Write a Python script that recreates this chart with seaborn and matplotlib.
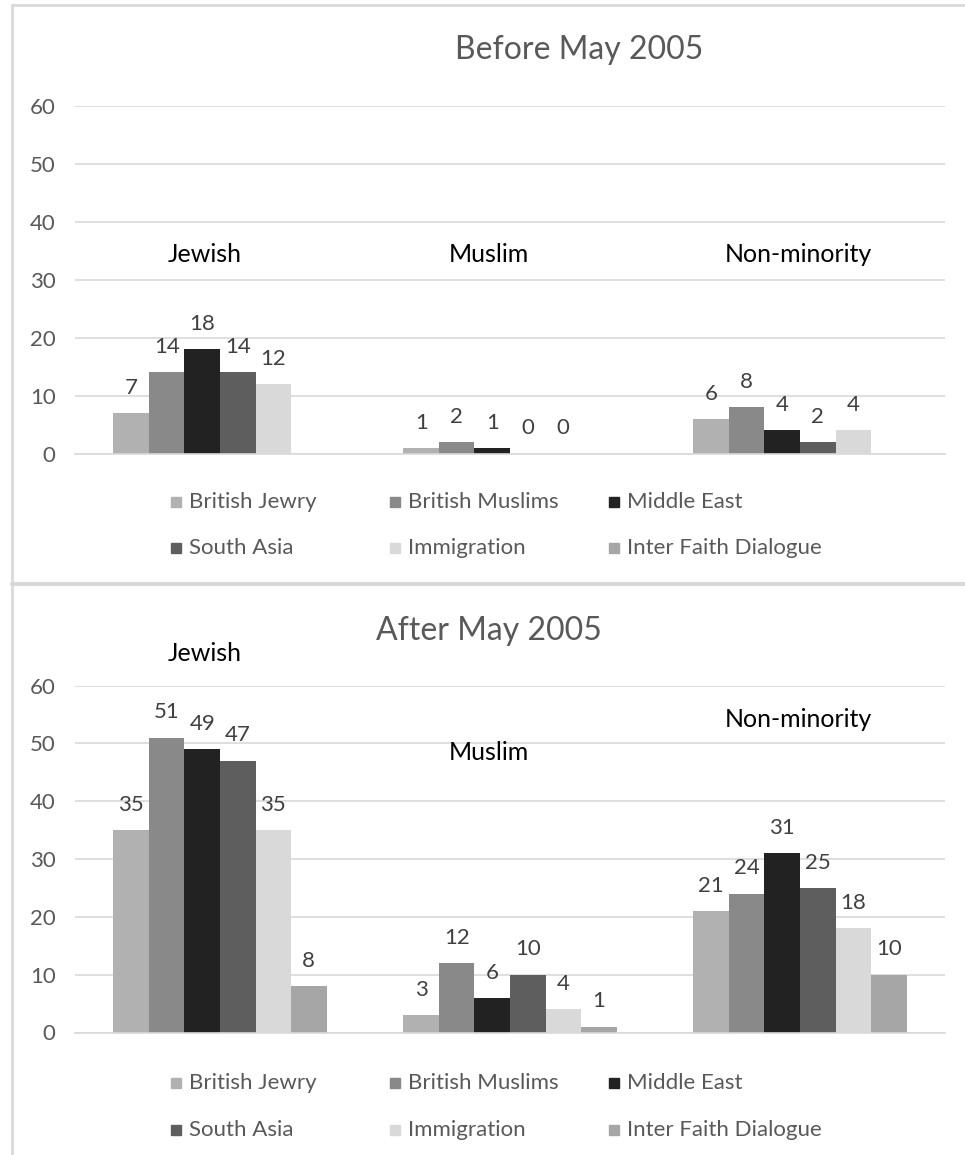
import matplotlib
matplotlib.use("Agg")
import matplotlib.pyplot as plt
from matplotlib.lines import Line2D
from matplotlib.patches import Rectangle
import pandas as pd
import seaborn as sns

# Data -----------------------------------------------------------------
groups = ["Jewish", "Muslim", "Non-minority"]
series = ["British Jewry", "British Muslims", "Middle East",
          "South Asia", "Immigration", "Inter Faith Dialogue"]
colors = ["#b1b1b1", "#898989", "#222222", "#5e5e5e", "#d9d9d9", "#a6a6a6"]

# Before May 2005 (no Inter Faith Dialogue counts)
before_british_jewry = [7, 1, 6]
before_british_muslims = [14, 2, 8]
before_middle_east = [18, 1, 4]
before_south_asia = [14, 0, 2]
before_immigration = [12, 0, 4]

# After May 2005
after_british_jewry = [35, 3, 21]
after_british_muslims = [51, 12, 24]
after_middle_east = [49, 6, 31]
after_south_asia = [47, 10, 25]
after_immigration = [35, 4, 18]
after_inter_faith = [8, 1, 10]

yticks = [0, 10, 20, 30, 40, 50, 60]


def long_frame(cols):
    rows = []
    for name, vals in cols:
        for g, v in zip(groups, vals):
            rows.append({"group": g, "series": name, "count": v})
    return pd.DataFrame(rows)


before_df = long_frame([
    ("British Jewry", before_british_jewry),
    ("British Muslims", before_british_muslims),
    ("Middle East", before_middle_east),
    ("South Asia", before_south_asia),
    ("Immigration", before_immigration),
])
after_df = long_frame([
    ("British Jewry", after_british_jewry),
    ("British Muslims", after_british_muslims),
    ("Middle East", after_middle_east),
    ("South Asia", after_south_asia),
    ("Immigration", after_immigration),
    ("Inter Faith Dialogue", after_inter_faith),
])

# Styling --------------------------------------------------------------
sns.set_theme(style="white")
plt.rcParams["font.family"] = ["Lato", "DejaVu Sans"]

W, H = 965, 1155
fig = plt.figure(figsize=(W / 100, H / 100), dpi=100)
fig.patch.set_facecolor("white")

TICK_C = "#595959"
VAL_C = "#404040"
GRID_C = "#d9d9d9"


def fx(px):
    return px / W


def fy(py):
    return 1 - py / H


def draw_panel(rect, df, title, title_xy, cat_labels, legend_rows):
    ax = fig.add_axes(rect)
    sns.barplot(data=df, x="group", y="count", hue="series",
                order=groups, hue_order=series, palette=colors,
                width=0.735, gap=0, dodge=True, linewidth=0,
                saturation=1, legend=False, errorbar=None, ax=ax)
    ax.set_ylim(0, 60)
    ax.set_xlim(-0.5, 2.5)
    ax.set_yticks(yticks)
    ax.set_yticklabels([str(t) for t in yticks])
    ax.tick_params(axis="y", length=0, pad=14, labelsize=16, labelcolor=TICK_C)
    ax.tick_params(axis="x", length=0, labelbottom=False)
    ax.set_xlabel("")
    ax.set_ylabel("")
    ax.grid(axis="y", color=GRID_C, linewidth=1.2)
    ax.set_axisbelow(True)
    for s in ["top", "right", "left"]:
        ax.spines[s].set_visible(False)
    ax.spines["bottom"].set_color(GRID_C)
    ax.spines["bottom"].set_linewidth(1.2)

    for cont in ax.containers:
        ax.bar_label(cont, fmt="%d", padding=11, fontsize=16, color=VAL_C)

    for text, x, y in cat_labels:
        ax.text(x, y, text, ha="center", va="center", fontsize=18,
                color="#000000", clip_on=False)

    fig.text(fx(title_xy[0]), fy(title_xy[1]), title, ha="center",
             va="center", fontsize=23, color=TICK_C)

    # legend laid out in two rows of three
    col_x = [171, 390, 609]
    for r, row_y in enumerate(legend_rows):
        for c in range(3):
            i = r * 3 + c
            fig.patches.append(Rectangle((fx(col_x[c]), fy(row_y + 5)),
                                         10 / W, 10 / H, color=colors[i],
                                         transform=fig.transFigure,
                                         figure=fig))
            fig.text(fx(col_x[c] + 18), fy(row_y), series[i], ha="left",
                     va="center", fontsize=16, color=TICK_C)
    return ax


draw_panel([fx(75), fy(453.7), 870 / W, 348 / H], before_df,
           "Before May 2005", (579, 50),
           [("Jewish", -0.052, 34.3), ("Muslim", 0.928, 34.3),
            ("Non-minority", 1.993, 34.3)],
           [502, 548])

draw_panel([fx(75), fy(1032.5), 870 / W, 346.9 / H], after_df,
           "After May 2005", (489, 631),
           [("Jewish", -0.052, 65.5), ("Muslim", 0.928, 48.4),
            ("Non-minority", 1.993, 54.2)],
           [1083, 1130])

# panel frames
frame_c = "#d9d9d9"
fig.add_artist(Line2D([fx(12), fx(12)], [fy(5), fy(1155)], color=frame_c,
                      linewidth=2, transform=fig.transFigure))
fig.add_artist(Line2D([fx(12), 1], [fy(5), fy(5)], color=frame_c,
                      linewidth=2, transform=fig.transFigure))
fig.add_artist(Line2D([fx(12), 1], [fy(584), fy(584)], color=frame_c,
                      linewidth=3, transform=fig.transFigure))

fig.savefig("out.png", dpi=100, facecolor="white")
